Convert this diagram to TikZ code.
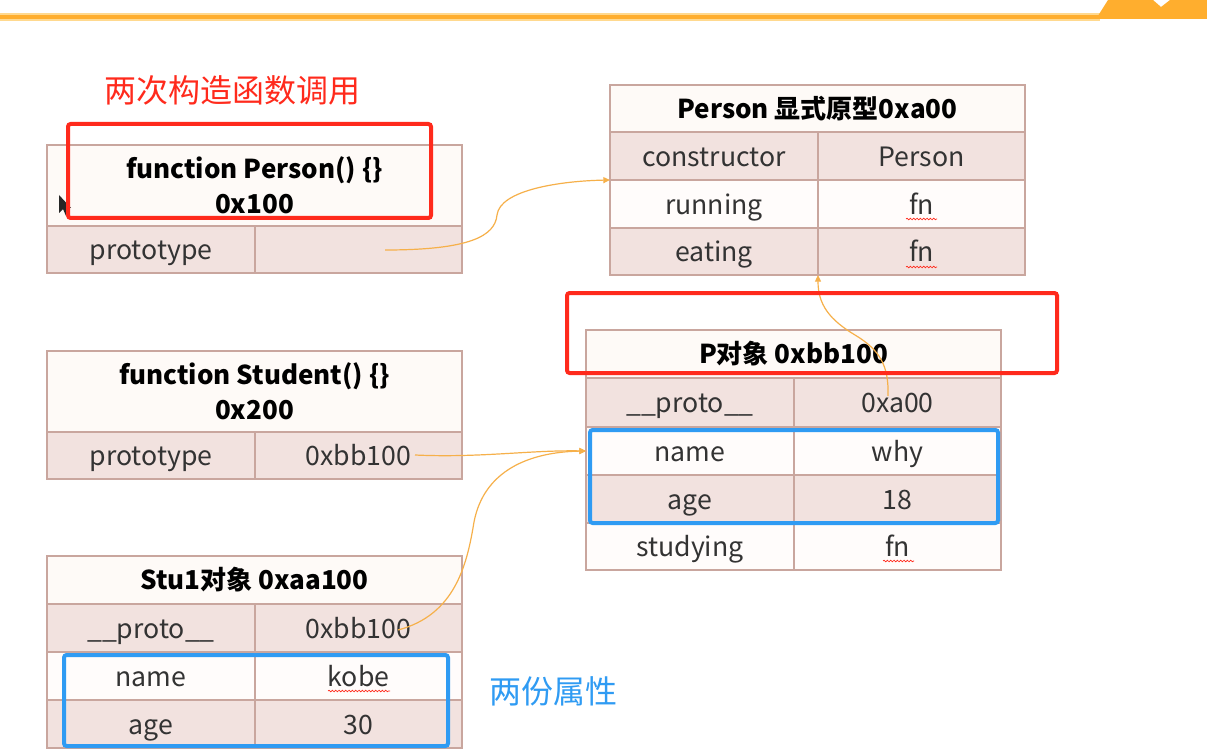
\documentclass[tikz,border=0pt]{standalone}
\usepackage{fontspec}
\setmainfont{Noto Sans CJK SC}
\usetikzlibrary{arrows.meta,decorations.pathmorphing}
\definecolor{pinkrow}{HTML}{F2E2DF}
\definecolor{hdrfill}{HTML}{FEFAF7}
\definecolor{whiterow}{HTML}{FFFCFB}
\definecolor{cellborder}{HTML}{C9A69E}
\definecolor{hired}{HTML}{FF2A1C}
\definecolor{hiblue}{HTML}{2F9BF3}
\definecolor{arrowor}{HTML}{F6B04A}
\definecolor{barorange}{HTML}{FFAE2E}
\definecolor{barlight}{HTML}{FFD98F}
\definecolor{celltext}{HTML}{333333}
\newcommand{\tcell}[7]{%
  \node[#6, minimum width={(#4-#2)*0.75pt}, minimum height={(#5-#3)*0.75pt}] (#1) at ({(#2+#4)/2},{(#3+#5)/2}) {#7};}
\tikzset{
  cellbase/.style={draw=cellborder, line width=1.4pt, inner sep=0pt, outer sep=0pt, text=celltext, font=\fontsize{20}{24}\selectfont, text height=16pt, text depth=0.5pt},
  hdrcell/.style={draw=cellborder, line width=1.4pt, inner sep=0pt, outer sep=0pt, fill=hdrfill, text=black, align=center, font=\fontsize{19.5}{26.5}\selectfont\bfseries},
  pcell/.style={cellbase, fill=pinkrow},
  wcell/.style={cellbase, fill=whiterow},
  redbox/.style={draw=hired, line width=3pt, rounded corners=2pt},
  bluebox/.style={draw=hiblue, line width=3pt, rounded corners=2pt},
  link/.style={draw=arrowor, line width=0.9pt, -{Triangle[length=5pt,width=4.5pt]}},
  squiggle/.style={draw=hired, line width=0.5pt, decorate, decoration={snake, amplitude=0.6pt, segment length=2.5pt}}
}
\begin{document}
\begin{tikzpicture}[x=0.75pt,y=-0.75pt]
\useasboundingbox (0,0) rectangle (1207,756);
\fill[white] (0,0) rectangle (1207,756);
% top bar
\fill[barlight] (0,13) rectangle (1100,21);
\fill[barorange] (0,15) rectangle (1100,19);
\fill[barorange] (1096,19) -- (1108,0) -- (1153,0) -- (1161,7) -- (1170,0) -- (1207,0) -- (1207,19) -- cycle;

% Table A: function Person
\tcell{Ahdr}{47}{145}{462}{226}{hdrcell}{function Person() \{\}\\0x100}
\tcell{Akey}{47}{226}{255}{273}{pcell}{prototype}
\tcell{Aval}{255}{226}{462}{273}{pcell}{}

% Table B: Person prototype
\tcell{Bhdr}{610}{85}{1025}{132}{hdrcell}{Person 显式原型0xa00}
\tcell{Bk1}{610}{132}{818}{180}{pcell}{constructor}
\tcell{Bv1}{818}{132}{1025}{180}{pcell}{Person}
\tcell{Bk2}{610}{180}{818}{228}{wcell}{running}
\tcell{Bv2}{818}{180}{1025}{228}{wcell}{fn}
\tcell{Bk3}{610}{228}{818}{275}{pcell}{eating}
\tcell{Bv3}{818}{228}{1025}{275}{pcell}{fn}

% Table C: function Student
\tcell{Chdr}{47}{351}{462}{432}{hdrcell}{function Student() \{\}\\0x200}
\tcell{Ckey}{47}{432}{255}{479}{pcell}{prototype}
\tcell{Cval}{255}{432}{462}{479}{pcell}{0xbb100}

% Table D: P object
\tcell{Dhdr}{586}{330}{1001}{378}{hdrcell}{P对象 0xbb100}
\tcell{Dk1}{586}{378}{794}{427}{pcell}{\_\_proto\_\_}
\tcell{Dv1}{794}{378}{1001}{427}{pcell}{0xa00}
\tcell{Dk2}{586}{427}{794}{475}{wcell}{name}
\tcell{Dv2}{794}{427}{1001}{475}{wcell}{why}
\tcell{Dk3}{586}{475}{794}{523}{pcell}{age}
\tcell{Dv3}{794}{475}{1001}{523}{pcell}{18}
\tcell{Dk4}{586}{523}{794}{570}{wcell}{studying}
\tcell{Dv4}{794}{523}{1001}{570}{wcell}{fn}

% Table E: Stu1 object
\tcell{Ehdr}{47}{556}{462}{604}{hdrcell}{Stu1对象 0xaa100}
\tcell{Ek1}{47}{604}{255}{652}{pcell}{\_\_proto\_\_}
\tcell{Ev1}{255}{604}{462}{652}{pcell}{0xbb100}
\tcell{Ek2}{47}{652}{255}{700}{wcell}{name}
\tcell{Ev2}{255}{652}{462}{700}{wcell}{kobe}
\tcell{Ek3}{47}{700}{255}{748}{pcell}{age}
\tcell{Ev3}{255}{700}{462}{748}{pcell}{30}

% spell-check squiggles
\path[squiggle] (906,219) -- (937,219);
\path[squiggle] (906,267) -- (937,267);
\path[squiggle] (883,561) -- (914,561);
\path[squiggle] (328,691) -- (390,691);

% connector endpoints
\coordinate (a1) at (385,250);
\coordinate (c1) at (415,455);
\coordinate (e1) at (398,630);
\coordinate (d1) at (888,396);

% connectors
\draw[link] (a1) .. controls (470,250) and (495,236) .. (497,215) .. controls (500,190) and (560,181) .. (Bk1.south west);
\draw[link] (c1) .. controls (480,458) and (530,450) .. (Dk2.west);
\draw[link] (e1) .. controls (455,615) and (467,565) .. (474,522) .. controls (484,470) and (530,452) .. (Dk2.west);
\draw[link] (d1) .. controls (889,366) and (880,350) .. (855,335) .. controls (830,320) and (818,305) .. (Bv3.south west);

% mouse cursor
\fill[black!85] (59,195) -- (59,213) -- (63,209) -- (66,216) -- (69,215) -- (66,208) -- (71,208) -- cycle;

% highlight boxes
\draw[redbox] (68,124) rectangle (431,218);
\draw[redbox] (567,293) rectangle (1057,373);
\draw[bluebox] (590,430) rectangle (998,523);
\draw[bluebox] (64,655) rectangle (448,746);

% annotations
\node[text=hired, font=\fontsize{24}{28}\selectfont, inner sep=0pt] (title) at (232,90) {两次构造函数调用};
\node[text=hiblue, font=\fontsize{24}{28}\selectfont, inner sep=0pt] (note) at (553,691) {两份属性};
\end{tikzpicture}
\end{document}
